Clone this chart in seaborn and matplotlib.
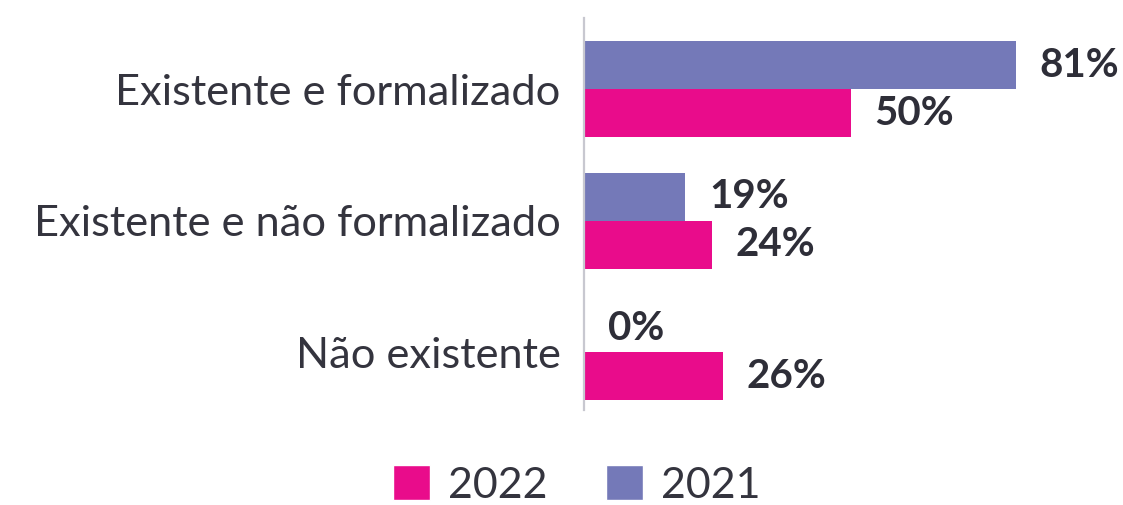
import matplotlib
matplotlib.use("Agg")
import matplotlib.pyplot as plt
import seaborn as sns
import pandas as pd
from matplotlib.patches import Patch

categories = ["Existente e formalizado", "Existente e não formalizado", "Não existente"]
values_2021 = [81, 19, 0]
values_2022 = [50, 24, 26]
years = ["2021", "2022"]

df = pd.DataFrame({
    "categoria": categories * 2,
    "valor": values_2021 + values_2022,
    "ano": [years[0]] * 3 + [years[1]] * 3,
})

sns.set_theme(style="white")
plt.rcParams["font.family"] = ["Lato", "DejaVu Sans"]

colors = {"2021": "#7479B8", "2022": "#E90C8B"}
text_color = "#2E2E38"

fig = plt.figure(figsize=(11.23, 5.05), dpi=100)
ax = fig.add_axes([584 / 1123, 1 - 410 / 505, 533 / 1123, (410 - 18) / 505])

sns.barplot(data=df, y="categoria", x="valor", hue="ano", hue_order=years,
            palette=colors, orient="h", width=0.73, ax=ax, legend=False,
            saturation=1, linewidth=0)

ax.set_xlim(0, 100)
ax.set_ylim(2.44, -0.54)
ax.set_xlabel("")
ax.set_ylabel("")
ax.set_xticks([])
for s in ["top", "right", "bottom"]:
    ax.spines[s].set_visible(False)
ax.spines["left"].set_color("#C8C8D0")
ax.spines["left"].set_linewidth(1.6)
ax.tick_params(axis="y", length=0, pad=17, labelsize=31.2, labelcolor="#34343E")

for cont in ax.containers:
    ax.bar_label(cont, labels=[f"{v:.0f}%" for v in cont.datavalues],
                 padding=17, fontsize=29, fontweight="bold", color=text_color)

handles = [Patch(facecolor=colors["2022"], label="2022"),
           Patch(facecolor=colors["2021"], label="2021")]
fig.legend(handles=handles, loc="center", bbox_to_anchor=(577 / 1123, 1 - 485 / 505),
           ncol=2, frameon=False, fontsize=31, handlelength=0.86, handleheight=0.86,
           handletextpad=0.42, columnspacing=1.35, labelcolor="#34343E",
           borderpad=0, borderaxespad=0)

fig.savefig("out.png", dpi=100)
